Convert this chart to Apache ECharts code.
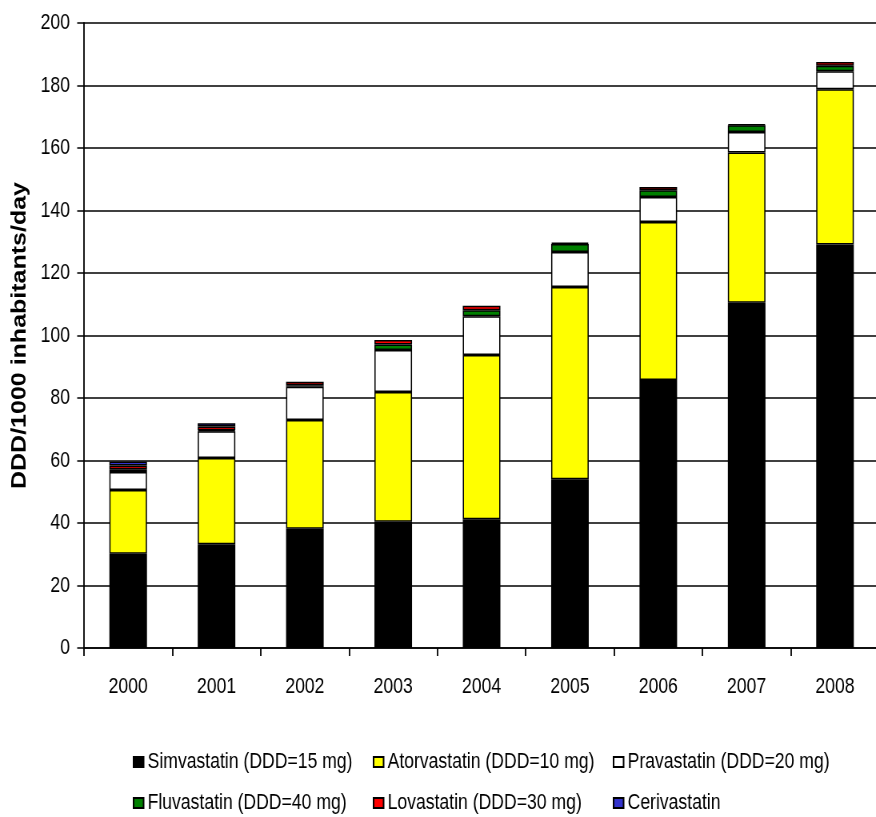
<!DOCTYPE html>
<html>
<head>
<meta charset="utf-8">
<script src="https://cdn.jsdelivr.net/npm/echarts@6/dist/echarts.min.js"></script>
<style>
  html, body { margin: 0; padding: 0; background: #fff; }
  #wrap { width: 876px; height: 817px; overflow: hidden; }
  /* the chart is laid out wider, then squeezed horizontally to give condensed lettering */
  #chart { width: 1095px; height: 817px; transform: scaleX(0.8); transform-origin: 0 0; }
</style>
</head>
<body>
<div id="wrap"><div id="chart"></div></div>
<script>
// Statin use, DDD per 1000 inhabitants per day
const years = ['2000', '2001', '2002', '2003', '2004', '2005', '2006', '2007', '2008'];
const simvastatin  = [30.2, 33.2, 38.2, 40.4, 41.2, 54.0, 85.8, 110.5, 129.1];
const atorvastatin = [20.4, 27.6, 34.8, 41.5, 52.6, 61.5, 50.5, 48.1, 49.7];
const pravastatin  = [5.7, 8.6, 10.6, 13.5, 12.4, 11.2, 8.0, 6.5, 5.8];
const fluvastatin  = [0.9, 0.3, 0.5, 1.7, 1.9, 2.6, 2.2, 2.2, 1.7];
const lovastatin   = [1.2, 1.2, 1.1, 1.5, 1.4, 0.4, 1.0, 0.3, 1.2];
const cerivastatin = [1.3, 1.0, null, null, null, null, null, null, null];
const yTicks = { min: 0, max: 200, interval: 20 };

const SANS = '"Liberation Sans", Arial, sans-serif';

const seriesDefs = [
  { name: 'Simvastatin (DDD=15 mg)', data: simvastatin, color: '#000000' },
  { name: 'Atorvastatin (DDD=10 mg)', data: atorvastatin, color: '#FFFF00' },
  { name: 'Pravastatin (DDD=20 mg)', data: pravastatin, color: '#FFFFFF' },
  { name: 'Fluvastatin (DDD=40 mg)', data: fluvastatin, color: '#008000' },
  { name: 'Lovastatin (DDD=30 mg)', data: lovastatin, color: '#FF0000' },
  { name: 'Cerivastatin', data: cerivastatin, color: '#3333CC' }
];

const legendBase = {
  orient: 'vertical',
  top: 751,
  height: 66,
  padding: 0,
  itemWidth: 12.5,
  itemHeight: 10,
  itemGap: 19,
  icon: 'rect',
  selectedMode: false,
  textStyle: { fontFamily: SANS, fontSize: 22, color: '#000', lineHeight: 22 }
};

const chart = echarts.init(document.getElementById('chart'), null, { renderer: 'canvas' });
chart.setOption({
  animation: false,
  backgroundColor: '#fff',
  grid: { left: 105, top: 23, width: 994, height: 625, containLabel: false, outerBoundsMode: 'none' },
  legend: [
    Object.assign({}, legendBase, { left: 166, data: [seriesDefs[0].name, seriesDefs[3].name] }),
    Object.assign({}, legendBase, { left: 466, data: [seriesDefs[1].name, seriesDefs[4].name] }),
    Object.assign({}, legendBase, { left: 766, data: [seriesDefs[2].name, seriesDefs[5].name] })
  ],
  xAxis: {
    type: 'category',
    data: years,
    boundaryGap: true,
    axisLine: { lineStyle: { color: '#000', width: 1.5 } },
    axisTick: { show: true, alignWithLabel: false, length: 8, lineStyle: { color: '#000', width: 1.8 } },
    axisLabel: { margin: 28, fontFamily: SANS, fontSize: 22, color: '#000' }
  },
  yAxis: {
    type: 'value',
    min: yTicks.min,
    max: yTicks.max,
    interval: yTicks.interval,
    name: 'DDD/1000 inhabitants/day',
    nameLocation: 'middle',
    nameRotate: 90,
    nameGap: 67,
    nameTextStyle: { fontFamily: SANS, fontWeight: 'bold', fontSize: 25, color: '#000' },
    axisLine: { show: true, lineStyle: { color: '#000', width: 1.8 } },
    axisTick: { show: true, inside: false, length: 8.5, lineStyle: { color: '#000', width: 1.5 } },
    axisLabel: { margin: 17.5, fontFamily: SANS, fontSize: 22, color: '#000' },
    splitLine: { show: true, lineStyle: { color: '#000', width: 1.5 } }
  },
  series: seriesDefs.map(s => ({
    name: s.name,
    type: 'bar',
    stack: 'total',
    data: s.data,
    barWidth: 47,
    itemStyle: { color: s.color, borderColor: '#000', borderWidth: 1.5 }
  }))
});
</script>
</body>
</html>
